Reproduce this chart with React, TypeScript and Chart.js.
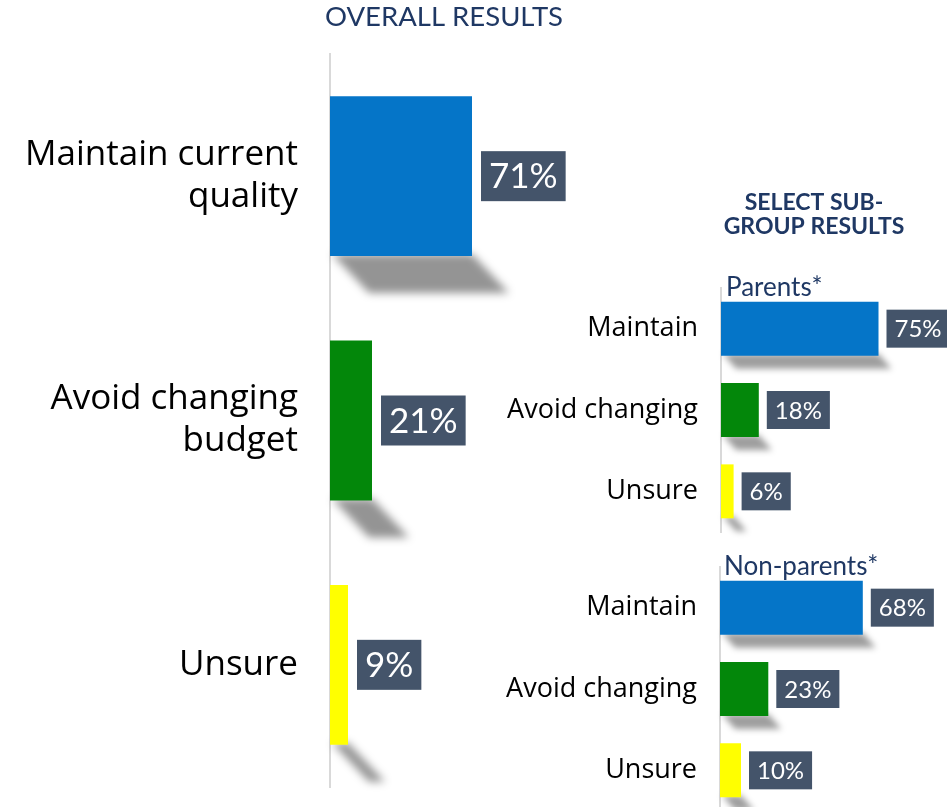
import React, { useEffect, useRef } from 'react';
import { Chart, registerables } from 'chart.js';

Chart.register(...registerables);

// ---------- data ----------
const overallCategories: string[][] = [["Maintain current", "quality"], ["Avoid changing", "budget"], ["Unsure"]];
const overallValues: number[] = [71, 21, 9];
const subCategories: string[] = ["Maintain", "Avoid changing", "Unsure"];
const parentsValues: number[] = [75, 18, 6];
const nonParentsValues: number[] = [68, 23, 10];
const barColors: string[] = ["#0575C8", "#03870A", "#FFFF00"];
const overallTitle = "OVERALL RESULTS";
const subGroupTitle: string[] = ["SELECT SUB-", "GROUP RESULTS"];
const parentsTitle = "Parents*";
const nonParentsTitle = "Non-parents*";

const NAVY = "#1F3864";
const BOX = "#44546A";

// ---------- plugins ----------
const shadowPlugin = {
  id: 'barShadow',
  beforeDatasetsDraw(chart: any, _args: any, opts: any) {
    const ctx = chart.ctx;
    const meta = chart.getDatasetMeta(0);
    const depth = opts.depth;
    ctx.save();
    ctx.filter = `blur(${opts.blur}px)`;
    ctx.fillStyle = opts.color;
    meta.data.forEach((el: any) => {
      const { x, y, base, height } = el.getProps(['x', 'y', 'base', 'height'], true);
      const bottom = y + height / 2;
      ctx.beginPath();
      ctx.moveTo(base + 2, bottom - 2);
      ctx.lineTo(x, bottom - 2);
      ctx.lineTo(x + depth, bottom + depth);
      ctx.lineTo(base + 2 + depth, bottom + depth);
      ctx.closePath();
      ctx.fill();
    });
    ctx.restore();
  },
};

const valueLabelPlugin = {
  id: 'valueLabels',
  afterDatasetsDraw(chart: any, _args: any, opts: any) {
    const ctx = chart.ctx;
    const meta = chart.getDatasetMeta(0);
    const data = chart.data.datasets[0].data;
    ctx.save();
    ctx.font = opts.font;
    ctx.textBaseline = 'middle';
    ctx.textAlign = 'center';
    meta.data.forEach((el: any, i: number) => {
      const { x, y } = el.getProps(['x', 'y'], true);
      const text = data[i] + '%';
      const tw = ctx.measureText(text).width;
      const w = tw + opts.padX * 2;
      const bx = x + opts.gap;
      ctx.fillStyle = BOX;
      ctx.fillRect(bx, y - opts.boxH / 2, w, opts.boxH);
      ctx.fillStyle = '#FFFFFF';
      ctx.fillText(text, bx + w / 2, y + opts.textDy);
    });
    ctx.restore();
  },
};

const headingPlugin = {
  id: 'headings',
  afterDraw(chart: any, _args: any, opts: any) {
    const ctx = chart.ctx;
    (opts.items || []).forEach((item: any) => {
      ctx.save();
      ctx.font = item.font;
      ctx.fillStyle = item.color;
      ctx.textAlign = item.align;
      ctx.textBaseline = 'alphabetic';
      const x = chart.chartArea.left + item.dx;
      const y = chart.chartArea.top + item.dy;
      item.lines.forEach((line: string, k: number) => ctx.fillText(line, x, y + k * item.lineH));
      ctx.restore();
    });
  },
};

function makeConfig(p: {
  labels: any[];
  values: number[];
  axisWidth: number;
  padding: { top: number; bottom: number; left: number; right: number };
  barPct: number;
  tickFont: any;
  tickPad: number;
  shadow: any;
  valueOpts: any;
  headings: any[];
}): any {
  return {
    type: 'bar',
    data: {
      labels: p.labels,
      datasets: [
        {
          data: p.values,
          backgroundColor: barColors,
          borderWidth: 0,
          categoryPercentage: 1,
          barPercentage: p.barPct,
        },
      ],
    },
    options: {
      indexAxis: 'y',
      responsive: false,
      animation: false,
      layout: { padding: p.padding },
      scales: {
        x: { display: false, min: 0, max: 100 },
        y: {
          afterFit: (scale: any) => {
            scale.width = p.axisWidth;
            scale.paddingTop = 0;
            scale.paddingBottom = 0;
          },
          grid: { display: false, drawTicks: false },
          border: { display: true, color: '#D9D9D9', width: 2 },
          ticks: { color: '#000000', font: p.tickFont, padding: p.tickPad },
        },
      },
      plugins: {
        legend: { display: false },
        tooltip: { enabled: false },
        title: { display: false },
        barShadow: p.shadow,
        valueLabels: p.valueOpts,
        headings: { items: p.headings },
      },
    },
    plugins: [shadowPlugin, valueLabelPlugin, headingPlugin],
  };
}

function ChartCanvas({ config, left, top, width, height }: any) {
  const ref = useRef<HTMLCanvasElement | null>(null);
  useEffect(() => {
    if (!ref.current) return;
    const chart = new Chart(ref.current, config);
    return () => chart.destroy();
  }, []);
  return (
    <canvas
      ref={ref}
      width={width}
      height={height}
      style={{ position: 'absolute', left, top, width, height }}
    />
  );
}

export default function App() {
  const mainConfig = makeConfig({
    labels: overallCategories,
    values: overallValues,
    axisWidth: 330,
    padding: { top: 54, bottom: 20, left: 0, right: 70 },
    barPct: 0.654,
    tickFont: { family: "'Open Sans', sans-serif", size: 35, lineHeight: 1.2 },
    tickPad: 32,
    shadow: { depth: 37, blur: 4, color: 'rgba(0,0,0,0.42)' },
    valueOpts: { font: "35px Lato, sans-serif", padX: 8, gap: 9, boxH: 50, textDy: 1 },
    headings: [
      { lines: [overallTitle], font: "27.5px Lato, sans-serif", color: NAVY, align: 'center', dx: 114, dy: -28, lineH: 0 },
    ],
  });

  const parentsConfig = makeConfig({
    labels: subCategories,
    values: parentsValues,
    axisWidth: 241,
    padding: { top: 118, bottom: 8, left: 0, right: 16 },
    barPct: 0.663,
    tickFont: { family: "'Open Sans', sans-serif", size: 27 },
    tickPad: 23,
    shadow: { depth: 13, blur: 3, color: 'rgba(0,0,0,0.38)' },
    valueOpts: { font: "24px Lato, sans-serif", padX: 8, gap: 8, boxH: 38, textDy: 1 },
    headings: [
      { lines: subGroupTitle, font: "bold 23px Lato, sans-serif", color: NAVY, align: 'center', dx: 93, dy: -78, lineH: 24 },
      { lines: [parentsTitle], font: "26px Lato, sans-serif", color: NAVY, align: 'left', dx: 5, dy: 8, lineH: 0 },
    ],
  });

  const nonParentsConfig = makeConfig({
    labels: subCategories,
    values: nonParentsValues,
    axisWidth: 240,
    padding: { top: 27, bottom: 9, left: 0, right: 17 },
    barPct: 0.663,
    tickFont: { family: "'Open Sans', sans-serif", size: 27 },
    tickPad: 23,
    shadow: { depth: 13, blur: 3, color: 'rgba(0,0,0,0.38)' },
    valueOpts: { font: "24px Lato, sans-serif", padX: 8, gap: 8, boxH: 38, textDy: 1 },
    headings: [
      { lines: [nonParentsTitle], font: "26px Lato, sans-serif", color: NAVY, align: 'left', dx: 4, dy: 8, lineH: 0 },
    ],
  });

  return (
    <div
      style={{
        position: 'absolute',
        left: 0,
        top: 0,
        width: 947,
        height: 807,
        overflow: 'hidden',
        background: '#FFFFFF',
      }}
    >
      <ChartCanvas config={mainConfig} left={0} top={0} width={600} height={807} />
      <ChartCanvas config={parentsConfig} left={480} top={170} width={467} height={370} />
      <ChartCanvas config={nonParentsConfig} left={480} top={540} width={467} height={280} />
    </div>
  );
}
